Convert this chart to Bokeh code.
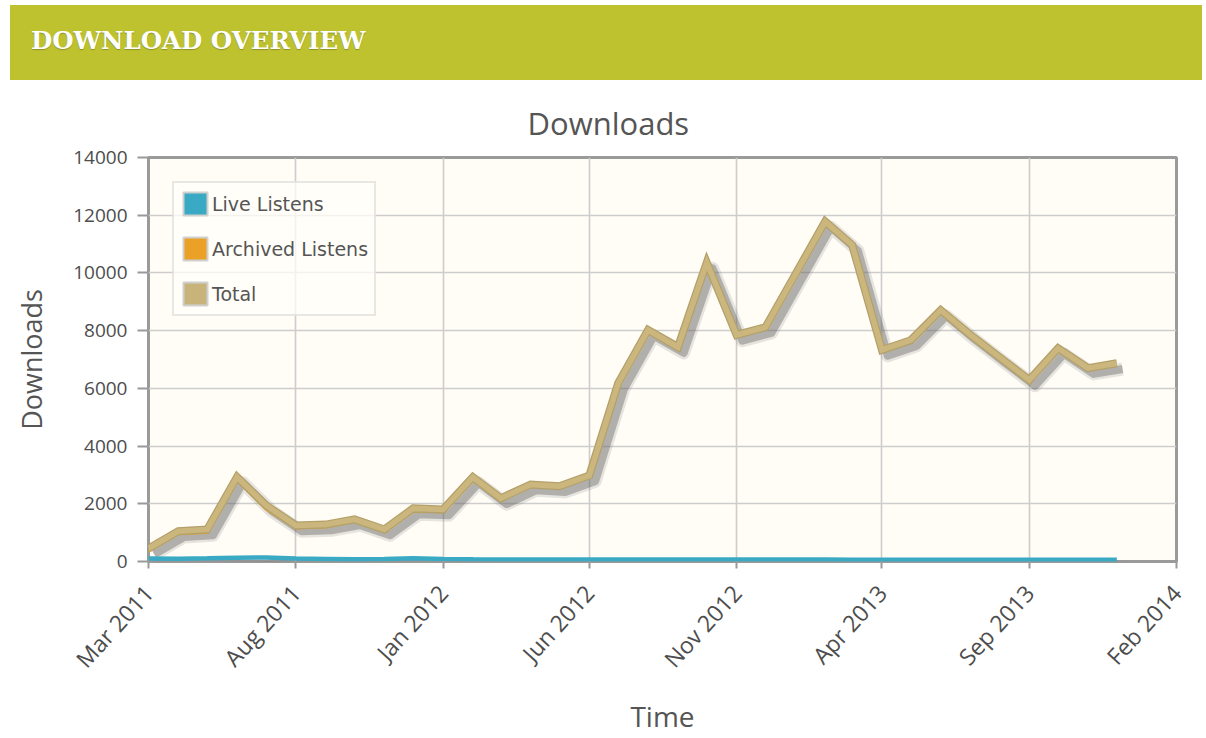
import pandas as pd
from bokeh.plotting import figure
from bokeh.models import (Range1d, FixedTicker, DatetimeTickFormatter, Legend, LegendItem,
                          ColumnDataSource, Div)
from bokeh.transform import dodge
from bokeh.layouts import column
from bokeh.embed import file_html
from bokeh.resources import INLINE

# ---------------- data ----------------
months = ["2011-03", "2011-04", "2011-05", "2011-06", "2011-07", "2011-08", "2011-09",
          "2011-10", "2011-11", "2011-12", "2012-01", "2012-02", "2012-03", "2012-04",
          "2012-05", "2012-06", "2012-07", "2012-08", "2012-09", "2012-10", "2012-11",
          "2012-12", "2013-01", "2013-02", "2013-03", "2013-04", "2013-05", "2013-06",
          "2013-07", "2013-08", "2013-09", "2013-10", "2013-11", "2013-12"]
live_listens = [100, 95, 110, 130, 140, 100, 90, 80, 90, 110, 85, 75, 70, 70,
                70, 70, 70, 70, 70, 70, 70, 70, 70, 70, 60, 60, 60, 60,
                60, 60, 60, 60, 60, 60]
archived_listens = [350, 955, 1000, 2800, 1810, 1150, 1190, 1380, 1020, 1730, 1715, 2845, 2120, 2600,
                    2540, 2910, 6110, 7950, 7360, 10290, 7780, 8050, 9880, 11710, 10910, 7270, 7610, 8650,
                    7820, 7020, 6230, 7330, 6640, 6810]
total = [450, 1050, 1110, 2930, 1950, 1250, 1280, 1460, 1110, 1840, 1800, 2920, 2190, 2670,
         2610, 2980, 6180, 8020, 7430, 10360, 7850, 8120, 9950, 11780, 10970, 7330, 7670, 8710,
         7880, 7080, 6290, 7390, 6700, 6870]
tick_months = ["2011-03", "2011-08", "2012-01", "2012-06", "2012-11", "2013-04", "2013-09", "2014-02"]
series_names = ["Live Listens", "Archived Listens", "Total"]
series_colors = ["#3aa9c3", "#eba126", "#c8b47b"]

dates = pd.to_datetime(months)
src = ColumnDataSource(dict(date=dates, live=live_listens, archived=archived_listens, total=total))

FONT = "Open Sans"
TXT = "#4d4d4d"

p = figure(width=1200, height=657, x_axis_type="datetime",
           x_range=Range1d(pd.Timestamp("2011-03-01"), pd.Timestamp("2014-02-01")),
           y_range=Range1d(0, 14000),
           output_backend="svg", toolbar_location=None,
           min_border_left=148, min_border_right=24, min_border_top=77, min_border_bottom=176,
           background_fill_color="#fffdf6", border_fill_color="white",
           title="Downloads", margin=(0, 0, 0, 0))

p.title.align = "left"
p.title.offset = 379
p.title.text_font = FONT
p.title.text_font_style = "normal"
p.title.text_font_size = "31px"
p.title.text_color = "#555555"
p.title.standoff = 27

p.outline_line_color = "#9a9a9a"
p.outline_line_width = 3

# grids
p.xgrid.grid_line_color = "#cdcdcd"
p.ygrid.grid_line_color = "#cdcdcd"
p.xgrid.grid_line_width = 1.6
p.ygrid.grid_line_width = 1.6

# axes
tick_ms = [pd.Timestamp(t).value // 10**6 for t in tick_months]
p.xaxis.ticker = FixedTicker(ticks=tick_ms)
fmt = "%b %Y"
p.xaxis.formatter = DatetimeTickFormatter(months=fmt, days=fmt, years=fmt, hours=fmt,
                                          minutes=fmt, seconds=fmt, milliseconds=fmt,
                                          microseconds=fmt, minsec=fmt, hourmin=fmt)
p.xaxis.major_label_orientation = 0.83
p.yaxis.ticker = FixedTicker(ticks=list(range(0, 14001, 2000)))

for ax in (p.xaxis[0], p.yaxis[0]):
    ax.axis_line_color = None
    ax.major_tick_line_color = "#9a9a9a"
    ax.major_tick_line_width = 2
    ax.major_tick_in = 0
    ax.minor_tick_line_color = None
    ax.major_label_text_font = FONT
    ax.major_label_text_color = TXT
    ax.axis_label_text_font = FONT
    ax.axis_label_text_font_style = "normal"
    ax.axis_label_text_color = "#555555"

p.yaxis.major_tick_out = 11
p.xaxis.major_tick_out = 7
p.yaxis.major_label_text_font_size = "19px"
p.xaxis.major_label_text_font_size = "23px"

p.xaxis.axis_label = "Time"
p.xaxis.axis_label_text_font_size = "28px"
p.xaxis.axis_label_standoff = 9
p.xaxis.major_label_standoff = 20
p.yaxis.axis_label = "Downloads"
p.yaxis.axis_label_text_font_size = "27px"
p.yaxis.axis_label_standoff = 20
p.yaxis.major_label_standoff = 10

# shadows (offset a few px right/down)
day_ms = 86400000
shx = dodge("date", 6 * day_ms)
for col, w in (("total", 8), ("live", 4)):
    p.line(x=shx, y=dodge(col, -200), source=src, line_color="#808080", line_alpha=0.2,
           line_width=w + 5, line_join="round")
    p.line(x=shx, y=dodge(col, -200), source=src, line_color="#5a5a5a", line_alpha=0.38,
           line_width=w, line_join="round")

# series
p.line(x="date", y="live", source=src, line_color=series_colors[0], line_width=4.5)
p.line(x="date", y="archived", source=src, line_color=series_colors[1], line_width=2.5)
p.line(x="date", y="total", source=src, line_color="#b3a06a", line_width=8, line_join="miter")
p.line(x="date", y="total", source=src, line_color="#cbb77e", line_width=5.5, line_join="miter")

# legend swatches: renderers with a single empty (NaN) box, shown only in the legend
nan = float("nan")
swatches = []
for c in series_colors:
    r = p.quad(left=[nan], right=[nan], top=[nan], bottom=[nan], fill_color=c,
               line_color="#d0d0d0", line_width=2)
    swatches.append(r)

legend = Legend(items=[LegendItem(label=n, renderers=[r]) for n, r in zip(series_names, swatches)],
                location="top_left")
legend.margin = 24
legend.padding = 6
legend.glyph_width = 30
legend.glyph_height = 29
legend.spacing = 16
legend.label_standoff = 2
legend.label_text_font = "DejaVu Sans"
legend.label_text_font_size = "19px"
legend.label_text_color = "#555555"
legend.border_line_color = "#cfcfcf"
legend.border_line_width = 2
legend.background_fill_color = "#fffef9"
legend.background_fill_alpha = 0.75
p.add_layout(legend)

header = Div(text='<div style="background:#bec22f;width:1192px;height:75px;'
                  'box-sizing:border-box;padding:23px 0 0 21px;color:white;line-height:25px;'
                  'font-family:\'DejaVu Serif\';font-weight:bold;font-size:24.5px;'
                  'text-shadow:0 1px 1px rgba(0,0,0,0.25);">DOWNLOAD OVERVIEW</div>',
             width=1192, height=75, margin=(5, 4, 0, 10))

layout = column(header, p, spacing=0)
open("out.html", "w").write(file_html(layout, INLINE))
